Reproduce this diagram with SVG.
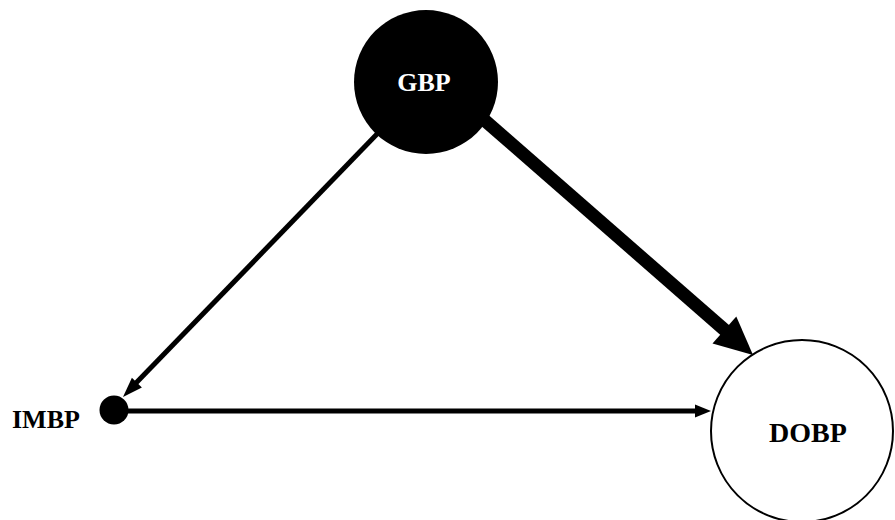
<svg xmlns="http://www.w3.org/2000/svg" width="895" height="520" viewBox="0 0 895 520">
<style>
.lbl{font-family:"Liberation Serif","Times New Roman",serif;font-weight:bold;}
.conn line{stroke:#000;}
.conn polygon{fill:#000;}
</style>
<rect width="895" height="520" fill="#fff"/>
<g id="connectors" class="conn">
<line x1="378" y1="133" x2="136" y2="383" stroke-width="5"/>
<polygon points="123,397 131.9,377.7 141.9,387.5"/>
<line x1="482" y1="118" x2="727" y2="332" stroke-width="13"/>
<polygon points="753,355 712.5,343.5 736.3,316.4"/>
<line x1="128" y1="411" x2="697" y2="411" stroke-width="5"/>
<polygon points="711,411 695,404.5 695,417.5"/>
</g>
<g id="GBP">
<circle cx="426" cy="82" r="72" fill="#000"/>
<text class="lbl" x="424" y="91" font-size="26" fill="#fff" text-anchor="middle">GBP</text>
</g>
<g id="IMBP">
<circle cx="114" cy="410" r="14.5" fill="#000"/>
<text class="lbl" x="12" y="428" font-size="26" fill="#000">IMBP</text>
</g>
<g id="DOBP">
<circle cx="802" cy="431" r="91" fill="#fff" stroke="#000" stroke-width="2"/>
<text class="lbl" x="808" y="442" font-size="28" fill="#000" text-anchor="middle">DOBP</text>
</g>
</svg>
